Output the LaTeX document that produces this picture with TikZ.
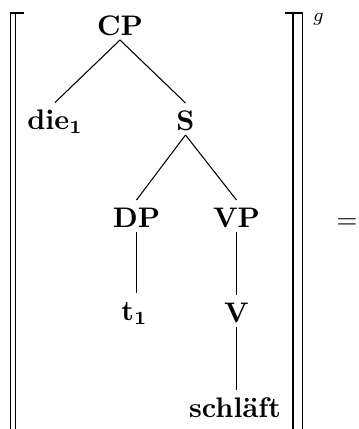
\documentclass[tikz,border=0pt]{standalone}
\begin{document}
\begin{tikzpicture}[x=0.3745pt,y=-0.3745pt,
  tn/.style={font=\fontsize{10.6pt}{12pt}\selectfont\bfseries, inner sep=0pt, outer sep=0pt, text height=10.1pt, text depth=1.87pt, anchor=base},
  edge/.style={line width=0.4pt},
  br/.style={line width=0.6pt}]
\useasboundingbox (0,0) rectangle (359,429);
% tree nodes
\node[tn] (cp)  at (120,35)    {CP};
\node[tn] (die) at (55,129.5)  {die$_{\mathbf{1}}$};
\node[tn] (s)   at (185.5,130) {S};
\node[tn] (dp)  at (136.5,227) {DP};
\node[tn] (vp)  at (236.5,227) {VP};
\node[tn] (t)   at (134.5,320) {t$_{\mathbf{1}}$};
\node[tn] (v)   at (236.5,322) {V};
\node[tn] (sch) at (235,417)   {schläft};
% edges
\draw[edge] (cp.south) -- (die.north);
\draw[edge] (cp.south) -- (s.north);
\draw[edge] (s.south) -- (dp.north);
\draw[edge] (s.south) -- (vp.north);
\draw[edge] (dp.south) -- (dp.south |- t.north);
\draw[edge] (vp.south) -- (v.north);
\draw[edge] (v.south) -- (v.south |- sch.north);
% double brackets
\draw[br] (24,12.7) -- (10.5,12.7) -- (10.5,429);
\draw[br] (15.5,12.7) -- (15.5,429);
\draw[br] (285,12.7) -- (302.5,12.7) -- (302.5,429);
\draw[br] (293,12.7) -- (293,429);
% superscript and equals
\node[anchor=base, inner sep=0pt] (g) at (318.5,21.4) {$\scriptstyle g$};
\node[anchor=base, inner sep=0pt] (eq) at (347,228.4) {$=$};
\end{tikzpicture}
\end{document}
